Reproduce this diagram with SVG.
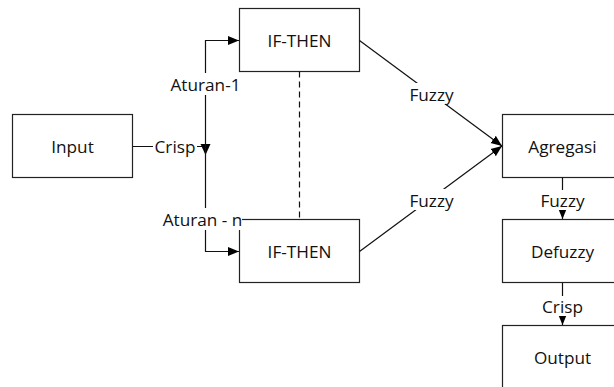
<svg xmlns="http://www.w3.org/2000/svg" width="614" height="387" viewBox="0 0 614 387">
<style>
.box{fill:#fff;stroke:#222;stroke-width:1.2}
.t{font-family:"Open Sans","Noto Sans",sans-serif;font-size:17.2px;fill:#111;text-anchor:middle;dominant-baseline:central}
.ln{fill:none;stroke:#111;stroke-width:1.2}
.bg{fill:#fff}
</style>
<defs>
<marker id="ah" markerUnits="userSpaceOnUse" markerWidth="12" markerHeight="10" refX="11" refY="5" orient="auto">
<path d="M0,0.5 L11,5 L0,9.5 z" fill="#000"/>
</marker>
</defs>
<rect width="614" height="387" fill="#fff"/>
<g id="input"><rect class="box" x="12.5" y="114.5" width="120" height="63"/><text class="t" x="72.5" y="146">Input</text></g>
<g id="ifthen1"><rect class="box" x="239.5" y="8.5" width="120" height="63"/><text class="t" x="299.5" y="40">IF-THEN</text></g>
<g id="ifthen2"><rect class="box" x="239.5" y="219.5" width="120" height="63"/><text class="t" x="299.5" y="251">IF-THEN</text></g>
<g id="agregasi"><rect class="box" x="502.5" y="114.5" width="120" height="63"/><text class="t" x="562.5" y="146">Agregasi</text></g>
<g id="defuzzy"><rect class="box" x="502.5" y="219.5" width="120" height="63"/><text class="t" x="562.5" y="251">Defuzzy</text></g>
<g id="output"><rect class="box" x="502.5" y="325.5" width="120" height="63"/><text class="t" x="562.5" y="357">Output</text></g>
<g id="connectors">
<path class="ln" d="M132.5,146.5 H205.5"/>
<path d="M200.5,144 L210.5,144 L205.5,155 z" fill="#000"/>
<path class="ln" d="M205.5,146 V40.5 H239" marker-end="url(#ah)"/>
<path class="ln" d="M205.5,146 V251.5 H239" marker-end="url(#ah)"/>
<path class="ln" d="M299.5,71.5 V219.5" stroke-dasharray="6,4"/>
<path class="ln" d="M359.5,40.5 L502,146" marker-end="url(#ah)"/>
<path class="ln" d="M359.5,251.5 L502,146" marker-end="url(#ah)"/>
<path class="ln" d="M562.5,177.5 V219" marker-end="url(#ah)"/>
<path class="ln" d="M562.5,283 V325" marker-end="url(#ah)"/>
<rect class="bg" x="153" y="136" width="44" height="20"/><text class="t" x="175" y="146">Crisp</text>
<rect class="bg" x="168" y="73" width="75" height="22"/><text class="t" x="205.5" y="84">Aturan-1</text>
<rect class="bg" x="163" y="208" width="79" height="22"/><text class="t" x="202.5" y="219">Aturan - n</text>
<rect class="bg" x="407" y="83" width="49" height="21"/><text class="t" x="431.5" y="94">Fuzzy</text>
<rect class="bg" x="407" y="189" width="49" height="21"/><text class="t" x="431.5" y="200">Fuzzy</text>
<rect class="bg" x="538" y="190" width="49" height="20"/><text class="t" x="562.5" y="200">Fuzzy</text>
<rect class="bg" x="540" y="296" width="45" height="20"/><text class="t" x="562.5" y="306">Crisp</text>
</g>
</svg>
